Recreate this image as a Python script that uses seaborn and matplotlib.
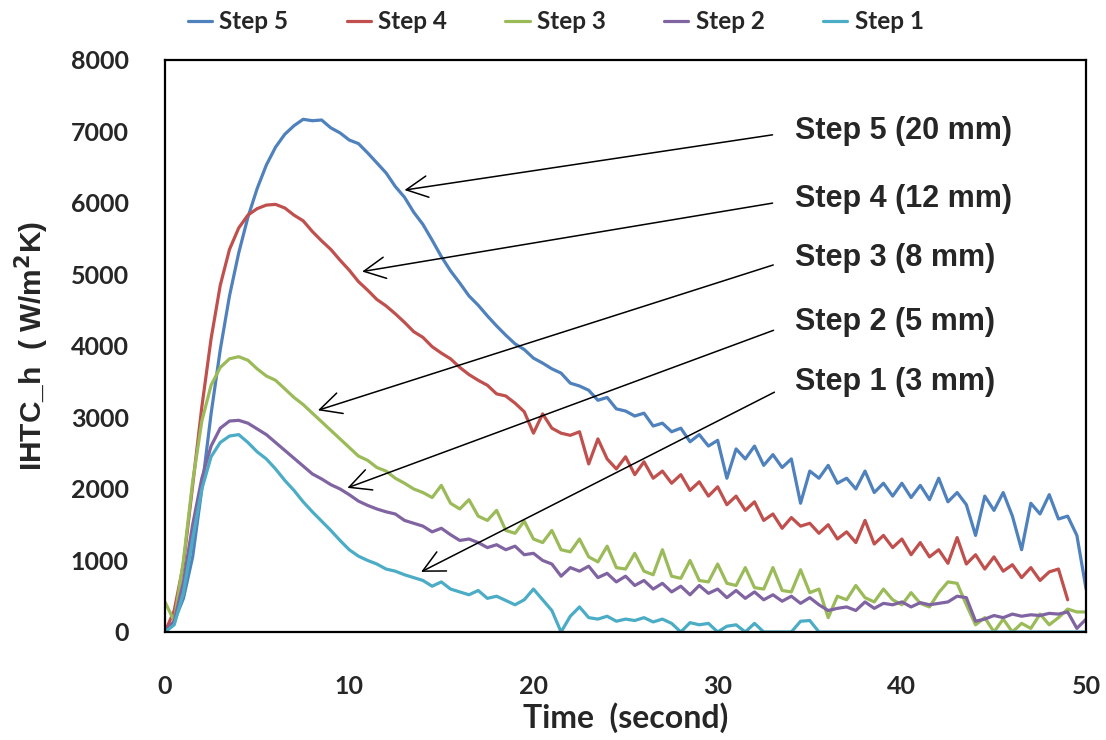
import numpy as np
import pandas as pd
import matplotlib
matplotlib.use("Agg")
import matplotlib.pyplot as plt
import seaborn as sns
from matplotlib.ticker import MultipleLocator

# Sampling grid (seconds) every 0.5 s
time = np.arange(0, 50.5, 0.5)

# IHTC values (W/m2K)
step5 = [0, 150, 470, 1050, 2000, 3050, 3950, 4700, 5300, 5800,
         6200, 6530, 6780, 6960, 7080, 7170, 7150, 7160, 7050, 6980,
         6880, 6830, 6700, 6560, 6420, 6230, 6080, 5870, 5700, 5480,
         5250, 5050, 4880, 4700, 4570, 4420, 4280, 4150, 4030, 3950,
         3830, 3760, 3680, 3620, 3480, 3440, 3380, 3240, 3280, 3120,
         3090, 3020, 3060, 2880, 2920, 2800, 2850, 2660, 2760, 2600,
         2680, 2150, 2560, 2420, 2600, 2330, 2480, 2300, 2420, 1800,
         2250, 2150, 2330, 2080, 2150, 2000, 2250, 1950, 2080, 1900,
         2080, 1880, 2050, 1850, 2150, 1820, 1950, 1780, 1350, 1900,
         1700, 1950, 1620, 1150, 1800, 1650, 1920, 1580, 1620, 1350,
         600]

step4 = [0, 300, 950, 2050, 3150, 4100, 4850, 5350, 5650, 5830,
         5920, 5970, 5980, 5930, 5830, 5750, 5600, 5470, 5350, 5200,
         5060, 4900, 4780, 4650, 4560, 4450, 4330, 4200, 4120, 3990,
         3900, 3820, 3700, 3600, 3520, 3450, 3330, 3300, 3200, 3080,
         2780, 3050, 2850, 2780, 2750, 2800, 2350, 2700, 2420, 2280,
         2450, 2200, 2380, 2150, 2250, 2080, 2200, 1980, 2100, 1900,
         2030, 1780, 1900, 1700, 1820, 1560, 1650, 1450, 1600, 1480,
         1520, 1380, 1500, 1300, 1400, 1250, 1560, 1230, 1350, 1180,
         1300, 1080, 1250, 1050, 1150, 960, 1320, 950, 1080, 880,
         1050, 850, 940, 760, 900, 720, 840, 880, 450]

step3 = [420, 150, 1000, 2100, 2950, 3450, 3700, 3820, 3850, 3800,
         3680, 3580, 3520, 3400, 3280, 3180, 3060, 2940, 2820, 2700,
         2580, 2460, 2400, 2300, 2250, 2150, 2080, 2000, 1950, 1880,
         2050, 1800, 1720, 1850, 1620, 1560, 1700, 1420, 1380, 1550,
         1300, 1250, 1420, 1150, 1120, 1300, 1050, 980, 1200, 900,
         880, 1100, 850, 800, 1150, 780, 750, 1000, 720, 700,
         950, 680, 650, 900, 620, 600, 900, 580, 560, 870,
         550, 600, 200, 500, 450, 650, 480, 420, 600, 450,
         380, 550, 400, 350, 550, 700, 680, 380, 100, 200,
         0, 180, 0, 120, 50, 250, 100, 200, 320, 280,
         280]

step2 = [0, 150, 700, 1500, 2150, 2600, 2850, 2950, 2960, 2920,
         2840, 2760, 2650, 2540, 2430, 2320, 2210, 2140, 2060, 2000,
         1920, 1830, 1770, 1720, 1680, 1650, 1560, 1520, 1480, 1400,
         1450, 1360, 1280, 1300, 1250, 1180, 1220, 1150, 1200, 1080,
         1100, 1000, 950, 780, 900, 850, 920, 760, 820, 700,
         780, 650, 720, 600, 680, 560, 640, 520, 650, 540,
         600, 480, 580, 470, 560, 450, 520, 430, 500, 400,
         480, 380, 300, 330, 350, 300, 420, 330, 400, 380,
         420, 350, 410, 380, 400, 420, 500, 480, 150, 180,
         230, 200, 250, 220, 240, 230, 260, 250, 280, 50,
         180]

step1 = [0, 100, 550, 1300, 2000, 2450, 2650, 2740, 2760, 2650,
         2520, 2420, 2280, 2120, 1980, 1820, 1680, 1550, 1420, 1280,
         1150, 1060, 1000, 950, 880, 850, 800, 760, 720, 640,
         700, 600, 560, 520, 580, 470, 500, 440, 380, 450,
         600, 450, 300, 0, 220, 350, 200, 180, 220, 150,
         180, 160, 200, 140, 180, 120, 0, 130, 100, 120,
         0, 80, 100, 0, 120, 0, 0, 0, 0, 150,
         160, 0, 0, 0, 0, 0, 0, 0, 0, 0,
         0, 0, 0, 0, 0, 0, 0, 0, 0, 0,
         0, 0, 0, 0, 0, 0, 0, 0, 0, 0,
         0]

series = {"Step 5": step5, "Step 4": step4, "Step 3": step3,
          "Step 2": step2, "Step 1": step1}
colors = ["#4F81BD", "#C0504D", "#9BBB59", "#8064A2", "#4BACC6"]

# annotation labels: (text, arrow tip time, arrow tip value, text value)
notes = [("Step 5 (20 mm)", 13.0, 6180, 7000),
         ("Step 4 (12 mm)", 10.7, 5040, 6050),
         ("Step 3 (8 mm)", 8.3, 3100, 5230),
         ("Step 2 (5 mm)", 9.9, 2015, 4330),
         ("Step 1 (3 mm)", 13.9, 840, 3500)]

rows = []
for name, vals in series.items():
    for t, v in zip(time, vals):
        rows.append((t, v, name))
df = pd.DataFrame(rows, columns=["time", "ihtc", "step"])

sns.set_style("white")
plt.rcParams["font.family"] = ["Lato", "DejaVu Sans"]

fig = plt.figure(figsize=(11.06, 7.40), dpi=100)
ax = fig.add_axes([0.1492, 0.146, 0.8328, 0.773])

sns.lineplot(data=df, x="time", y="ihtc", hue="step", hue_order=list(series.keys()),
             palette=colors, linewidth=2.3, estimator=None, sort=False, ax=ax)

ax.set_xlim(0, 50)
ax.set_ylim(0, 8000)
ax.xaxis.set_major_locator(MultipleLocator(10))
ax.xaxis.set_minor_locator(MultipleLocator(2))
ax.yaxis.set_major_locator(MultipleLocator(1000))
ax.yaxis.set_minor_locator(MultipleLocator(200))
ax.tick_params(axis="both", which="both", direction="in", length=6, width=1.3, color="black")
ax.tick_params(axis="y", which="major", pad=26, labelsize=18)
ax.tick_params(axis="x", which="major", pad=31, labelsize=18)
for lab in ax.get_xticklabels() + ax.get_yticklabels():
    lab.set_fontweight("bold")

for s in ax.spines.values():
    s.set_color("black")
    s.set_linewidth(1.6)

ax.set_xlabel("Time  (second)", fontsize=23, fontweight="bold", labelpad=3)
ax.set_ylabel("IHTC_h  ( W/m$^\\mathbf{2}$K)", fontsize=21.5, fontweight="bold",
              family="Liberation Sans", labelpad=14)

for text, tx, tv, ty in notes:
    ax.annotate(text, xy=(tx, tv), xytext=(34.2, ty), ha="left", va="center",
                fontsize=22, fontweight="bold", family="Liberation Sans",
                arrowprops=dict(arrowstyle="->,head_length=0.7,head_width=0.35",
                                color="black", lw=1.1, relpos=(0, 0.5),
                                shrinkA=14, shrinkB=0))

ax.legend(loc="lower center", bbox_to_anchor=(0.424, 1.008), ncol=5, frameon=False,
          handlelength=1.0, handletextpad=0.3, columnspacing=2.4,
          prop={"family": "Lato", "weight": "bold", "size": 17.5})

fig.savefig("out.png", dpi=100)
